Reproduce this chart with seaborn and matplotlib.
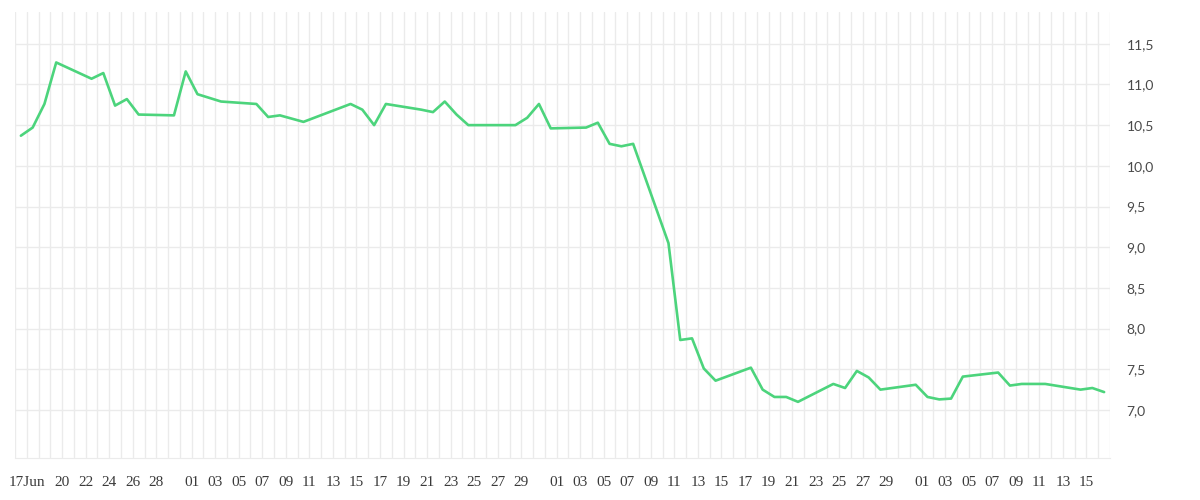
import numpy as np
import pandas as pd
import seaborn as sns
import matplotlib.pyplot as plt
import matplotlib.dates as mdates

# giá trị (mỗi điểm là một ngày, vẽ lúc 12h trưa)
dates = [
    "2025-06-16", "2025-06-17", "2025-06-18", "2025-06-19", "2025-06-22", "2025-06-23",
    "2025-06-24", "2025-06-25", "2025-06-26", "2025-06-29", "2025-06-30", "2025-07-01",
    "2025-07-03", "2025-07-06", "2025-07-07", "2025-07-08", "2025-07-10", "2025-07-14",
    "2025-07-15", "2025-07-16", "2025-07-17", "2025-07-20", "2025-07-21", "2025-07-22",
    "2025-07-23", "2025-07-24", "2025-07-28", "2025-07-29", "2025-07-30", "2025-07-31",
    "2025-08-03", "2025-08-04", "2025-08-05", "2025-08-06", "2025-08-07", "2025-08-10",
    "2025-08-11", "2025-08-12", "2025-08-13", "2025-08-14", "2025-08-17", "2025-08-18",
    "2025-08-19", "2025-08-20", "2025-08-21", "2025-08-24", "2025-08-25", "2025-08-26",
    "2025-08-27", "2025-08-28", "2025-08-31", "2025-09-01", "2025-09-02", "2025-09-03",
    "2025-09-04", "2025-09-07", "2025-09-08", "2025-09-09", "2025-09-10", "2025-09-11",
    "2025-09-14", "2025-09-15", "2025-09-16",
]
values = [
    10.37, 10.47, 10.76, 11.27, 11.07, 11.14,
    10.74, 10.82, 10.63, 10.62, 11.16, 10.88,
    10.79, 10.76, 10.60, 10.62, 10.54, 10.76,
    10.69, 10.50, 10.76, 10.69, 10.66, 10.79,
    10.63, 10.50, 10.50, 10.59, 10.76, 10.46,
    10.47, 10.53, 10.27, 10.24, 10.27, 9.05,
    7.86, 7.88, 7.51, 7.36, 7.52, 7.25,
    7.16, 7.16, 7.10, 7.32, 7.27, 7.48,
    7.40, 7.25, 7.31, 7.16, 7.13, 7.14,
    7.41, 7.46, 7.30, 7.32, 7.32, 7.32,
    7.25, 7.27, 7.22,
]

tick_dates = (["2025-06-17"] + [f"2025-06-{d:02d}" for d in range(20, 29, 2)]
              + [f"2025-07-{d:02d}" for d in range(1, 30, 2)]
              + [f"2025-08-{d:02d}" for d in range(1, 30, 2)]
              + [f"2025-09-{d:02d}" for d in range(1, 16, 2)])
tick_labels = ["17Jun"] + [d[-2:] for d in tick_dates[1:]]

y_ticks = [7.0, 7.5, 8.0, 8.5, 9.0, 9.5, 10.0, 10.5, 11.0, 11.5]
y_labels = ["7,0", "7,5", "8,0", "8,5", "9,0", "9,5", "10,0", "10,5", "11,0", "11,5"]

df = pd.DataFrame({"date": pd.to_datetime(dates) + pd.Timedelta(hours=12), "value": values})

sns.set_style("white")
grid = "#ebebeb"

fig = plt.figure(figsize=(12, 5), dpi=100)
ax = fig.add_axes([0.0125, 0.084, 0.9125, 0.892])

sns.lineplot(data=df, x="date", y="value", color="#4cd47c", linewidth=1.9, ax=ax)

ax.set_xlim(pd.Timestamp("2025-06-16"), pd.Timestamp("2025-09-17"))
ax.set_ylim(6.41, 11.89)

# lưới dọc theo từng ngày
ax.xaxis.set_minor_locator(mdates.DayLocator())
ax.set_xticks(pd.to_datetime(tick_dates))
ax.set_xticklabels(tick_labels, family="Liberation Serif", fontsize=11, color="#3a3a3a")
ax.tick_params(axis="x", which="both", length=7, color=grid, width=1, pad=6)
ax.grid(True, which="both", axis="x", color=grid, linewidth=1)

ax.yaxis.tick_right()
ax.set_yticks(y_ticks)
ax.set_yticklabels(y_labels, family="Lato", fontsize=10, color="#4a4a4a")
ax.tick_params(axis="y", length=0, pad=12)
ax.grid(True, which="major", axis="y", color=grid, linewidth=1)

for s in ["top", "right", "left"]:
    ax.spines[s].set_visible(False)
ax.spines["bottom"].set_color(grid)
ax.set_xlabel("")
ax.set_ylabel("")
ax.set_axisbelow(True)

fig.savefig("out.png", dpi=100)
